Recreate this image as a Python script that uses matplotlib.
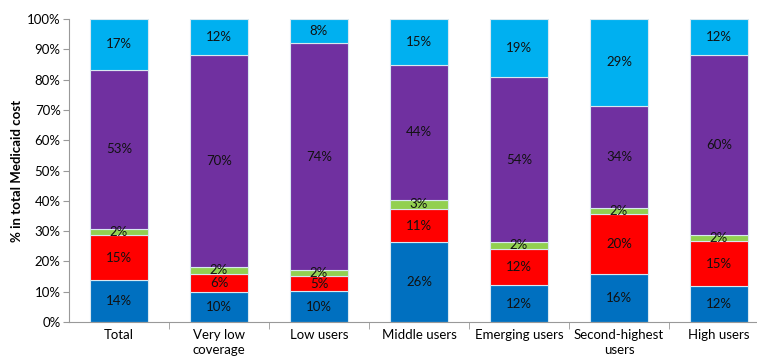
import numpy as np
import matplotlib.pyplot as plt
from matplotlib.ticker import PercentFormatter

categories = ["Total", "Very low\ncoverage", "Low users", "Middle users",
              "Emerging users", "Second-highest\nusers", "High users"]
seg1 = [14, 10, 10, 26, 12, 16, 12]   # blue
seg2 = [15, 6, 5, 11, 12, 20, 15]     # red
seg3 = [2, 2, 2, 3, 2, 2, 2]          # green
seg4 = [53, 70, 74, 44, 54, 34, 60]   # purple
seg5 = [17, 12, 8, 15, 19, 29, 12]    # light blue

colors = ["#0070C0", "#FF0000", "#92D050", "#7030A0", "#00B0F0"]
plt.rcParams["font.family"] = ["Lato", "DejaVu Sans"]

data = np.array([seg1, seg2, seg3, seg4, seg5], dtype=float)
shares = data / data.sum(axis=0) * 100

fig = plt.figure(figsize=(7.57, 3.59), dpi=100)
ax = fig.add_axes([69 / 757, 37 / 359, 700 / 757, 303 / 359])

x = np.arange(len(categories))
bottom = np.zeros(len(categories))
for i in range(5):
    ax.bar(x, shares[i], 0.58, bottom=bottom, color=colors[i],
           edgecolor="#d8e8f0", linewidth=0.8)
    for j in range(len(categories)):
        ax.text(x[j], bottom[j] + shares[i][j] / 2, "{:d}%".format(int(data[i][j])),
                ha="center", va="center", fontsize=9.5, color="#111111")
    bottom += shares[i]

ax.set_xlim(-0.5, len(categories) - 0.5)
ax.set_ylim(0, 100)
ax.set_yticks(np.arange(0, 101, 10))
ax.yaxis.set_major_formatter(PercentFormatter(decimals=0))
ax.set_xticks(x)
ax.set_xticklabels(categories, fontsize=9.5, linespacing=1.3)
ax.set_xticks(np.arange(0.5, len(categories) - 0.5, 1), minor=True)
ax.tick_params(axis="x", which="major", length=0, pad=5)
ax.tick_params(axis="x", which="minor", length=5, color="#999999")
ax.tick_params(axis="y", length=4, color="#999999", labelsize=9.5, pad=2)
ax.set_ylabel("% in total Medicaid cost", fontsize=9.5, fontweight="bold", labelpad=3)

for s in ["top", "right"]:
    ax.spines[s].set_visible(False)
ax.spines["left"].set_color("#999999")
ax.spines["bottom"].set_color("#999999")

fig.savefig("out.png", dpi=100)
